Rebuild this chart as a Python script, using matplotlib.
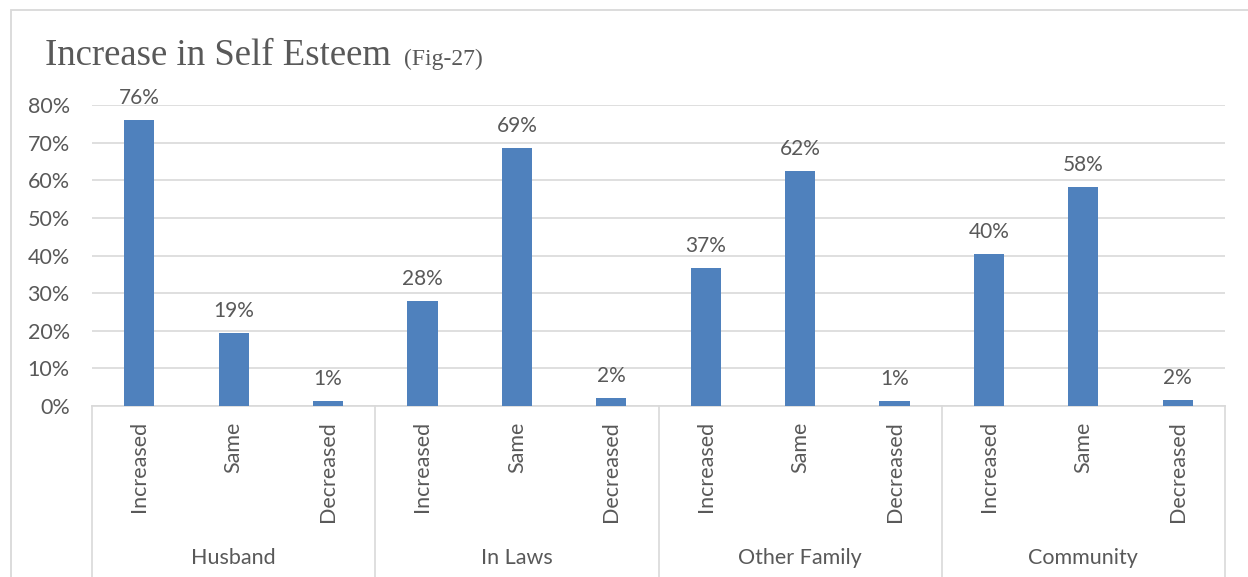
import numpy as np
import matplotlib.pyplot as plt
from matplotlib.patches import Rectangle

groups = ['Husband', 'In Laws', 'Other Family', 'Community']
responses = ['Increased', 'Same', 'Decreased']
# share of respondents, % (one row per group)
husband = [76.0, 19.4, 1.3]
in_laws = [27.9, 68.6, 2.1]
other_family = [36.7, 62.4, 1.3]
community = [40.4, 58.1, 1.6]

values = [husband, in_laws, other_family, community]
bar_color = '#4F81BD'
text_color = '#595959'
grid_color = '#D9D9D9'
plt.rcParams['font.family'] = ['Lato', 'DejaVu Sans']

fig = plt.figure(figsize=(12.48, 5.77), dpi=100)
W, H = 1248, 577
ax = fig.add_axes([92 / W, (H - 406) / H, (1225 - 92) / W, 301 / H])

# chart frame
fig.patches.append(Rectangle((11 / W, -0.05), 1.1, (H - 10) / H + 0.05,
                             transform=fig.transFigure, fill=False,
                             edgecolor=grid_color, lw=1.3))

n = len(responses)
x = np.arange(len(groups) * n)
heights = [v for row in values for v in row]
bars = ax.bar(x, heights, width=0.32, color=bar_color, zorder=3)
for b, h in zip(bars, heights):
    ax.text(b.get_x() + b.get_width() / 2, h + 3.2, f'{h:.0f}%',
            ha='center', va='bottom', fontsize=15, color=text_color)

ax.set_xlim(-0.5, len(x) - 0.5)
ax.set_ylim(0, 80)
ax.set_yticks(range(0, 81, 10))
ax.set_yticklabels([f'{t}%' for t in range(0, 81, 10)], fontsize=15.5, color=text_color)
ax.yaxis.grid(True, color=grid_color, lw=1.2, zorder=0)
ax.tick_params(axis='y', length=0, pad=16)
for s in ['top', 'right', 'left']:
    ax.spines[s].set_visible(False)
ax.spines['bottom'].set_color(grid_color)
ax.spines['bottom'].set_linewidth(1.2)

ax.set_xticks(x)
ax.set_xticklabels(responses * len(groups), rotation=90, fontsize=15.5,
                   color=text_color, va='top')
ax.tick_params(axis='x', length=0, pad=11)

trans = ax.get_xaxis_transform()
for g in range(len(groups) + 1):
    ax.plot([g * n - 0.5] * 2, [0, -0.6], transform=trans, color=grid_color,
            lw=1.2, clip_on=False)
for g, name in enumerate(groups):
    ax.text(g * n + 1, -0.505, name, transform=trans, ha='center', va='center',
            fontsize=15.5, color=text_color)

fig.text(45 / W, 1 - 65 / H, 'Increase in Self Esteem', fontsize=26.5,
         family='Liberation Serif', color=text_color, va='baseline')
fig.text(404 / W, 1 - 65 / H, '(Fig-27)', fontsize=17,
         family='Liberation Serif', color=text_color, va='baseline')

fig.savefig('out.png', dpi=100)
